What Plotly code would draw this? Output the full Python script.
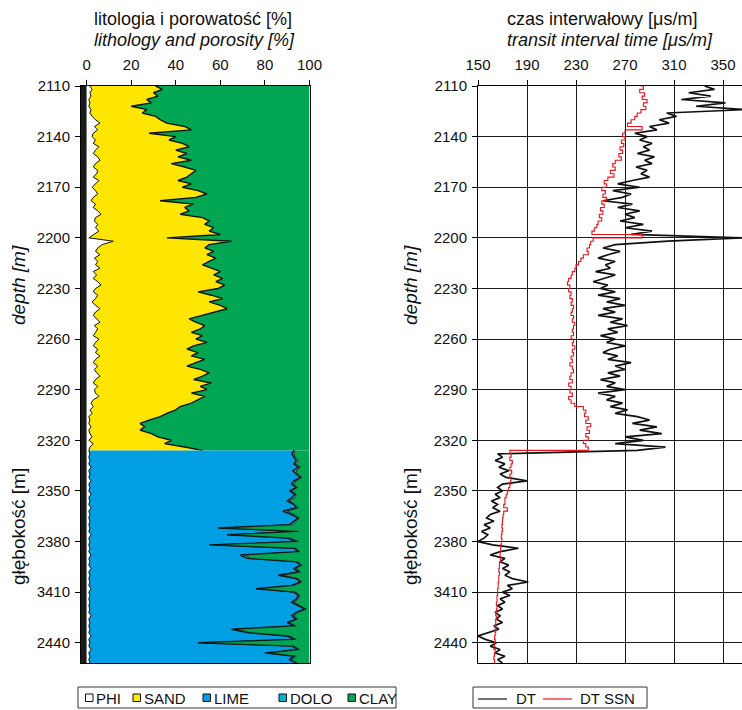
import plotly.graph_objects as go

W, H = 742, 710
FONT = "Liberation Sans, Arial, Helvetica, sans-serif"

# ---------------- data ----------------
# depth sampling of the logs [m]
depth_upper = list(range(2110, 2328, 2))   # sand / clay interval
depth_lower = list(range(2326, 2454, 2))   # carbonate interval
depth_dt = list(range(2110, 2454, 2))

# lithology volumes, upper interval [%]
phi_upper = [
    1.5, 2.5, 1.5, 2, 1, 1.5, 1, 2, 1.5, 2.5,
    4, 6, 3.5, 5, 3, 2.5, 4, 3, 5.5, 4,
    3, 5, 6, 4, 3, 5, 4.5, 3, 5.5, 4,
    2.5, 4, 5, 3, 2, 4, 3, 5, 6.5, 4,
    3.5, 5, 4, 5.5, 3, 1, 12, 7, 5, 4,
    6, 3.5, 5, 4, 6, 3, 4.5, 3, 5, 6.5,
    4, 3, 5, 4, 2.5, 4, 6, 4, 3, 4.5,
    6, 3.5, 5, 4, 3, 5.5, 4, 3, 5, 4,
    6, 4, 3, 5, 3.5, 4.5, 6, 4, 3, 5,
    3.5, 4, 5.5, 3, 2, 3, 1.5, 2.5, 1, 1.5,
    1, 2, 1, 1.5, 2.5, 1, 3, 1.5, 1,
]
sand_upper = [
    29.5, 31.5, 28.5, 30, 26, 27.5, 19, 25, 23.5, 28.5,
    29, 30, 40.5, 42, 25, 37.5, 33, 40, 40.5, 36,
    42, 36, 41, 34, 41, 44, 42.5, 42, 35.5, 43,
    40.5, 46, 49, 46, 31, 44, 41, 41, 35.5, 48,
    51.5, 48, 53, 49.5, 57, 35, 53, 48, 48, 53,
    48, 54.5, 50, 48, 50, 57, 52.5, 58, 53, 55.5,
    55, 47, 51, 57, 52.5, 56, 57, 53, 49, 41.5,
    43, 49.5, 46, 43, 49, 43.5, 50, 45, 40, 46,
    41, 49, 46, 40, 47.5, 50.5, 46, 44, 53, 46,
    50.5, 43, 47.5, 47, 45, 39, 38.5, 33.5, 32, 26.5,
    23, 24, 23, 27.5, 29.5, 37, 32, 42.5, 51,
]

# lithology volumes, lower interval [%]
phi_lower = [
    1, 1.5, 1, 1.5, 1, 2, 1, 1.5, 1, 2,
    1, 1.5, 1, 2, 1, 1.5, 1, 2, 1, 1.5,
    1, 1.5, 1, 1.5, 1, 2, 1, 1.5, 1, 1.5,
    1, 2, 1, 1.5, 1, 2, 1, 1.5, 1, 1.5,
    1, 2, 1, 1.5, 1, 1.5, 1, 1.5, 1, 2,
    1, 1.5, 1, 1.5, 1, 2, 1, 1.5, 1, 2,
    1, 1.5, 1, 1.5,
]
lime_lower = [
    92, 90.5, 92, 92.5, 92, 93, 91.5, 92.5, 95, 91,
    91, 92.5, 90, 91.5, 91, 88.5, 92, 92, 87, 90.5,
    94, 91.5, 90, 57.5, 93, 61, 89, 92.5, 54, 91.5,
    94, 67, 71, 92.5, 95, 91, 94, 84.5, 93, 94.5,
    91, 74, 92, 93.5, 93, 90.5, 94, 96.5, 93, 90,
    93, 88.5, 92, 63.5, 71, 88, 92, 48.5, 91, 93,
    79, 91.5, 90, 92.5,
]
dolo_lower = [
    0.5, 1, 0.5, 1, 0.5, 1, 1.5, 0.5, 0.5, 1,
    1, 0.5, 1, 0.5, 1.5, 1, 0.5, 1, 2, 1,
    0.5, 1, 1.5, 3, 1, 2, 1.5, 1, 2, 1,
    0.5, 2, 1.5, 1, 0.5, 1, 1, 2, 1, 0.5,
    1, 2, 1, 0.5, 1, 1, 0.5, 0.5, 1, 1,
    0.5, 1, 1, 2, 1.5, 1, 1, 2, 1, 0.5,
    2, 1, 1, 0.5,
]

# transit interval time [us/m]
dt = [
    335, 343, 322, 340, 316, 352, 328, 368, 304, 312,
    298, 306, 290, 296, 278, 288, 282, 292, 285, 290,
    280, 294, 286, 292, 279, 288, 283, 290, 276, 264,
    282, 260, 275, 268, 252, 276, 264, 282, 270, 278,
    266, 285, 270, 292, 275, 366, 305, 262, 252, 266,
    256, 248, 262, 254, 258, 246, 262, 252, 244, 256,
    250, 262, 248, 266, 255, 270, 252, 262, 248, 268,
    258, 272, 256, 264, 250, 262, 255, 270, 258, 252,
    264, 256, 275, 262, 270, 256, 266, 250, 262, 255,
    270, 248, 262, 255, 268, 258, 272, 262, 280, 290,
    276, 296, 282, 300, 270, 285, 262, 303, 280, 166,
    170, 164, 172, 167, 175, 168, 173, 190, 170, 166,
    170, 164, 168, 161, 166, 162, 168, 160, 157, 163,
    155, 160, 153, 158, 155, 150, 162, 183, 168, 160,
    172, 168, 175, 170, 176, 172, 178, 191, 174, 178,
    170, 176, 168, 172, 166, 170, 164, 168, 165, 170,
    163, 167, 158, 150, 156, 165, 160, 168, 164, 172,
    166, 170,
]
dt_ssn = [
    283, 285, 282, 286, 284, 288, 285, 287, 283, 280,
    278, 275, 272, 284, 270, 268, 270, 267, 269, 266,
    268, 265, 267, 262, 260, 262, 258, 261, 256, 253,
    255, 251, 254, 252, 255, 251, 253, 250, 252, 249,
    251, 248, 247, 245, 243, 284, 244, 242, 241, 239,
    240, 236, 234, 232, 230, 229, 227, 226, 224, 223,
    225, 224, 226, 225, 227, 226, 228, 227, 226, 228,
    227, 229, 228, 227, 228, 226, 228, 227, 229, 227,
    228, 226, 227, 225, 227, 228, 226, 225, 227, 224,
    226, 225, 227, 224, 226, 229, 236, 238, 237, 240,
    238, 242, 239, 241, 238, 240, 236, 238, 240, 176,
    177, 176, 178, 177, 176, 177.5, 176, 177, 176.5, 176,
    175, 174, 173, 172, 172, 171, 174, 171, 170.5, 170,
    170, 169.5, 170, 169.5, 169, 169.5, 169, 168.5, 168.5, 168,
    168, 168.5, 167.5, 167.5, 167, 167.5, 167, 167, 166.5, 166.5,
    166, 166, 165.5, 165.5, 165, 165.5, 165, 164.5, 165, 164.5,
    164.5, 164, 164.5, 164, 163.5, 164, 163.5, 163, 164, 163.5,
    163, 163.5,
]

# axis ticks
depth_ticks = [2110, 2140, 2170, 2200, 2230, 2260, 2290, 2320, 2350, 2380, 2410, 2440]
depth_tick_labels = ["2110", "2140", "2170", "2200", "2230", "2260", "2290",
                     "2320", "2350", "2380", "3410", "2440"]
litho_ticks = [0, 20, 40, 60, 80, 100]
dt_ticks = [150, 190, 230, 270, 310, 350]

litho_names = ["PHI", "SAND", "LIME", "DOLO", "CLAY"]
litho_colors = ["#FFFFFF", "#FFE600", "#009FE3", "#00B5CF", "#00A651"]
dt_names = ["DT", "DT SSN"]
dt_colors = ["#111111", "#E8141C"]

# clay fills the remainder of each depth sample
clay_upper = [100 - p - s for p, s in zip(phi_upper, sand_upper)]
clay_lower = [100 - p - l - d for p, l, d in zip(phi_lower, lime_lower, dolo_lower)]


# ---------------- figure ----------------
def fx(p):
    return p / W


def fy(p):
    return 1 - p / H


fig = go.Figure()


def litho_trace(vals, depth, name, color, group, lw=0.9):
    return go.Scatter(
        x=vals, y=depth, name=name, stackgroup=group, orientation="h",
        mode="lines", line=dict(color="#111111", width=lw, shape="linear"),
        fillcolor=color, showlegend=False, hoverinfo="skip",
        xaxis="x", yaxis="y",
    )


fig.add_trace(litho_trace(phi_upper, depth_upper, "PHI", litho_colors[0], "upper", lw=1.0))
fig.add_trace(litho_trace(sand_upper, depth_upper, "SAND", litho_colors[1], "upper", lw=1.4))
fig.add_trace(litho_trace(clay_upper, depth_upper, "CLAY", litho_colors[4], "upper", lw=0))

fig.add_trace(litho_trace(phi_lower, depth_lower, "PHI", litho_colors[0], "lower", lw=1.0))
fig.add_trace(litho_trace(lime_lower, depth_lower, "LIME", litho_colors[2], "lower", lw=1.4))
fig.add_trace(litho_trace(dolo_lower, depth_lower, "DOLO", litho_colors[3], "lower", lw=0.8))
fig.add_trace(litho_trace(clay_lower, depth_lower, "CLAY", litho_colors[4], "lower", lw=0))

fig.add_trace(go.Scatter(
    x=dt, y=depth_dt, name="DT", mode="lines",
    line=dict(color=dt_colors[0], width=1.7, shape="linear"),
    showlegend=False, hoverinfo="skip", xaxis="x2", yaxis="y2",
))
fig.add_trace(go.Scatter(
    x=dt_ssn, y=depth_dt, name="DT SSN", mode="lines",
    line=dict(color=dt_colors[1], width=1.1, shape="hv"),
    showlegend=False, hoverinfo="skip", xaxis="x2", yaxis="y2",
))

tick_font = dict(family=FONT, size=15, color="#111111")
y_dom = [fy(663), fy(86)]

common_y = dict(
    range=[2452, 2110], domain=y_dom, tickvals=depth_ticks, ticktext=depth_tick_labels,
    ticks="outside", ticklen=5, tickcolor="#000000", tickfont=tick_font,
    showline=True, linecolor="#000000", linewidth=1, mirror=True,
    zeroline=False, ticklabelstandoff=2, automargin=False,
)
common_x = dict(
    side="top", ticks="outside", ticklen=5, tickcolor="#000000", tickfont=tick_font,
    showline=True, linecolor="#000000", linewidth=1, mirror=True,
    zeroline=False, ticklabelstandoff=4, automargin=False,
)

fig.update_layout(
    width=W, height=H,
    margin=dict(l=0, r=0, t=0, b=0, pad=0, autoexpand=False),
    paper_bgcolor="#FFFFFF", plot_bgcolor="#FFFFFF",
    font=dict(family=FONT, color="#111111"),
    showlegend=False,
    xaxis=dict(domain=[fx(81), fx(309.5)], range=[-2.5, 100], tickvals=litho_ticks,
               showgrid=False, anchor="y", **common_x),
    yaxis=dict(anchor="x", showgrid=False, **common_y),
    xaxis2=dict(domain=[fx(478), 1.0], range=[150, 365.5], tickvals=dt_ticks,
                showgrid=True, gridcolor="#1a1a1a", gridwidth=1, anchor="y2", **common_x),
    yaxis2=dict(anchor="x2", showgrid=True, gridcolor="#1a1a1a", gridwidth=1, **common_y),
)

shapes = []
# black edge strip of the lithology track
shapes.append(dict(type="rect", xref="x", yref="y", x0=-2.5, x1=0, y0=2110, y1=2452,
                   fillcolor="#1a1a1a", line=dict(width=0), layer="above"))

annotations = []


def text(x, y, s, size=18, anchor="left", angle=0):
    annotations.append(dict(
        x=fx(x), y=fy(y), xref="paper", yref="paper", text=s, showarrow=False,
        xanchor=anchor, yanchor="middle", textangle=angle,
        font=dict(family=FONT, size=size, color="#111111"),
    ))


# track headers
text(92, 19, "litologia i porowatość [%]")
text(92, 40, "<i>lithology and porosity [%]</i>")
text(505, 19, "czas interwałowy [μs/m]")
text(505, 40, "<i>transit interval time [μs/m]</i>")

# depth axis titles
for xc in (18, 410):
    text(xc, 285, "<i>depth [m]</i>", size=19, anchor="center", angle=-90)
    text(xc, 527, "głębokość [m]", size=19, anchor="center", angle=-90)

# lithology key
shapes.append(dict(type="rect", xref="paper", yref="paper",
                   x0=fx(78), x1=fx(396), y0=fy(708), y1=fy(687),
                   line=dict(color="#333333", width=1), fillcolor="rgba(0,0,0,0)"))
key_sq_x = [85.5, 133, 203, 279, 348]
for name, color, sx in zip(litho_names, litho_colors, key_sq_x):
    shapes.append(dict(type="rect", xref="paper", yref="paper",
                       x0=fx(sx), x1=fx(sx + 7.5), y0=fy(701.5), y1=fy(694),
                       fillcolor=color, line=dict(color="#111111", width=1)))
    text(sx + 8.5, 698, name, size=15)

# transit time key
shapes.append(dict(type="rect", xref="paper", yref="paper",
                   x0=fx(473), x1=fx(647), y0=fy(708), y1=fy(687),
                   line=dict(color="#333333", width=1), fillcolor="rgba(0,0,0,0)"))
key_line_x = [478, 543]
key_text_x = [514, 578]
for name, color, lx, tx in zip(dt_names, dt_colors, key_line_x, key_text_x):
    shapes.append(dict(type="line", xref="paper", yref="paper",
                       x0=fx(lx), x1=fx(lx + 29), y0=fy(699), y1=fy(699),
                       line=dict(color=color, width=1.2)))
    text(tx, 698, name, size=15)

fig.update_layout(shapes=shapes, annotations=annotations)

fig.write_html("out.html")
